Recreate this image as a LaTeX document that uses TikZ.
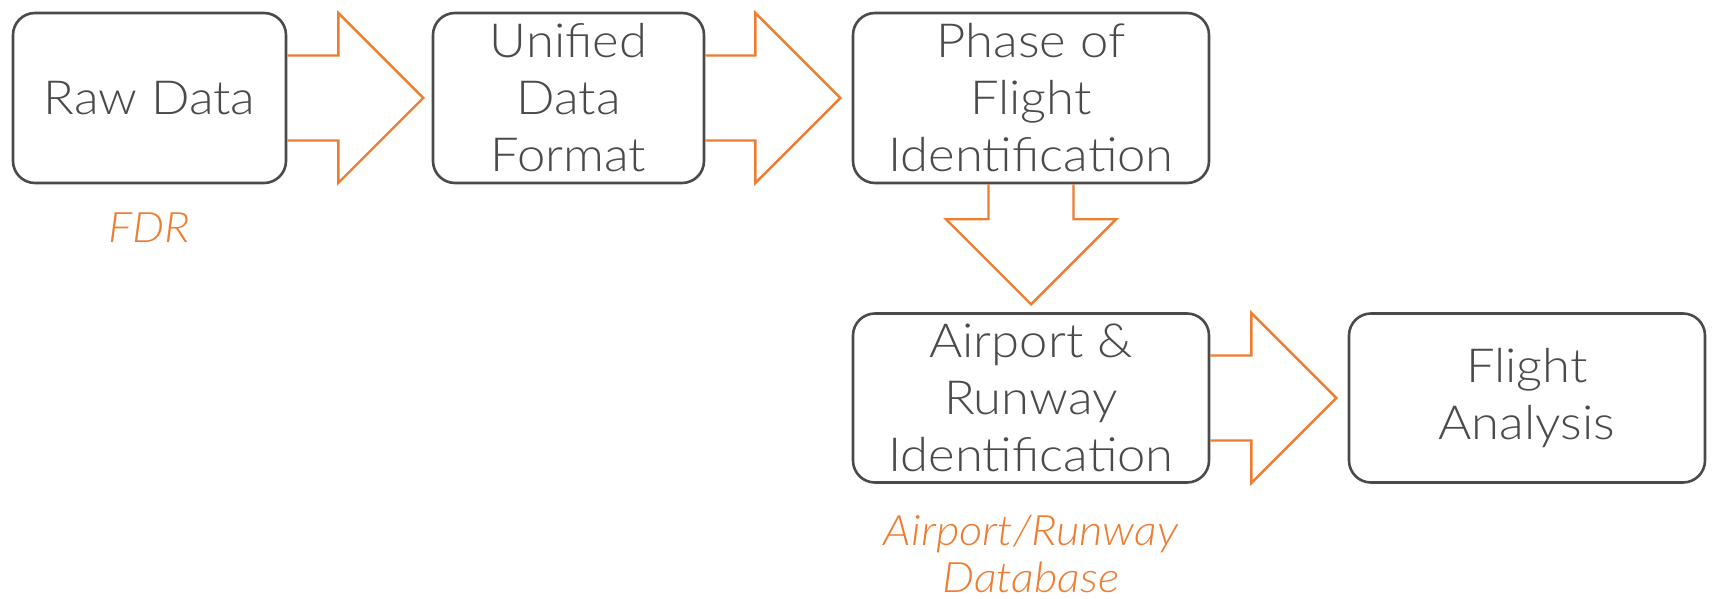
\documentclass[tikz,border=0pt]{standalone}
\usepackage{fontspec}
\setmainfont{Lato}[UprightFont=* Light, ItalicFont=* Light Italic, FakeStretch=1.08]
\definecolor{boxgray}{HTML}{4A4A4A}
\definecolor{orng}{HTML}{ED7D31}
\tikzset{
  stepbox/.style={draw=boxgray, line width=2.6pt, rounded corners=22pt, text=boxgray,
    inner sep=0pt, align=center, font=\fontsize{47}{57}\selectfont},
  arrowline/.style={draw=orng, line width=2.4pt, line join=miter},
  note/.style={text=orng, font=\fontsize{42}{47}\selectfont\itshape, align=center, inner sep=0pt},
  pics/barrow/.style={code={
    \draw[arrowline] (0,-42.5) -- (#1,-42.5) -- (#1,-85) -- (#1+85,0) -- (#1,85) -- (#1,42.5) -- (0,42.5);
  }}
}
\begin{document}
\begin{tikzpicture}[x=1pt,y=1pt]
\useasboundingbox (0,0) rectangle (1714,598);
\node[stepbox, minimum width=273pt, minimum height=170pt] (raw) at (149.5,500) {Raw Data};
\node[stepbox, minimum width=271pt, minimum height=170pt] (ufmt) at (568.5,500) {Unified\\Data\\Format};
\node[stepbox, minimum width=356pt, minimum height=170pt] (phase) at (1031,500) {Phase of\\Flight\\Identification};
\node[stepbox, minimum width=356pt, minimum height=169pt] (arw) at (1031,200) {Airport \&\\Runway\\Identification};
\node[stepbox, minimum width=356pt, minimum height=169pt] (fa) at (1527,200) {Flight\\Analysis};
\pic at (raw.east) {barrow=51};
\pic at (ufmt.east) {barrow=50};
\pic[rotate=-90] at (phase.south) {barrow=35};
\pic at (arw.east) {barrow=41};
\node[note, anchor=base] (fdr) at (149,355) {FDR};
\node[note, anchor=base] (db) at (1031,53) {Airport/Runway};
\node[note, anchor=base] (db2) at (1031,6) {Database};
\end{tikzpicture}
\end{document}
